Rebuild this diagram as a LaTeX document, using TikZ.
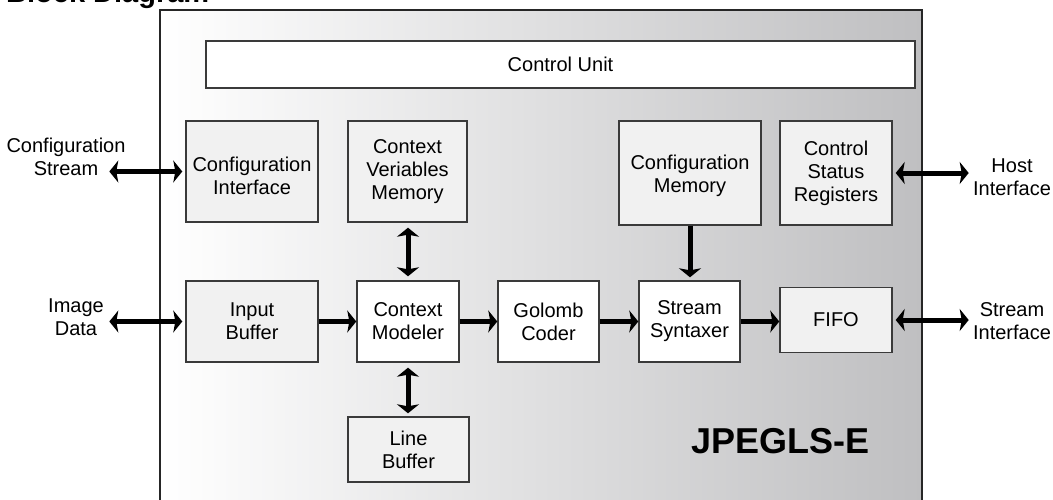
\documentclass[tikz,border=0pt]{standalone}
\usepackage{fontspec}
\setmainfont{Liberation Sans}
\usetikzlibrary{arrows.meta}
\definecolor{boxfill}{HTML}{F1F1F1}
\definecolor{boxline}{HTML}{3A3A3A}
\definecolor{chipline}{HTML}{262626}
\definecolor{shadeR}{HTML}{BFBFC1}
\begin{document}
\begin{tikzpicture}[x=1pt,y=-1pt,
  txt/.style={align=center, inner sep=0pt, font=\fontsize{20}{23}\selectfont},
  blk/.style={txt, draw=boxline, line width=1.4pt, fill=boxfill},
  wblk/.style={blk, fill=white},
  tipk/.tip={Stealth[length=9pt,width=22pt,inset=2pt]},
  conn/.style={line width=5pt, -tipk},
  dconn/.style={line width=5pt, tipk-tipk}]
\useasboundingbox (0,0) rectangle (1053,499);
\clip (0,0) rectangle (1053,499);
% chip outline
\node[draw=chipline, line width=2pt, left color=white, right color=shadeR,
      minimum width=762pt, minimum height=520pt, inner sep=0pt] (chip) at (541,270) {};
% title
\node[anchor=base west, inner sep=0pt, font=\fontsize{29}{32}\selectfont\bfseries] (title) at (6,2.5) {Block Diagram};
% blocks
\node[wblk, minimum width=709pt, minimum height=47pt] (ctrl) at (560.5,64.5) {Control Unit};
\node[blk, minimum width=132pt, minimum height=101pt, text height=47pt] (cfgif) at (252,171.5) {Configuration\\Interface};
\node[blk, minimum width=119pt, minimum height=101pt] (cvm) at (407.5,171.5) {Context\\Veriables\\Memory};
\node[blk, minimum width=142pt, minimum height=104pt, text height=44pt] (cfgmem) at (690,173) {Configuration\\Memory};
\node[blk, minimum width=112pt, minimum height=104pt] (csr) at (836,173) {Control\\Status\\Registers};
\node[blk, minimum width=132pt, minimum height=81pt] (inbuf) at (252,321.5) {Input\\Buffer};
\node[wblk, minimum width=102pt, minimum height=81pt] (cm) at (408,321.5) {Context\\Modeler};
\node[wblk, minimum width=101pt, minimum height=81pt] (gc) at (548.5,321.5) {Golomb\\Coder};
\node[wblk, minimum width=101pt, minimum height=81pt] (ss) at (689.5,321.5) {Stream\\Syntaxer};
\node[blk, minimum width=112pt, minimum height=65pt] (fifo) at (836,320) {FIFO};
\node[blk, minimum width=121pt, minimum height=65pt] (lb) at (408.5,449.5) {Line\\Buffer};
\node[anchor=base, inner sep=0pt, font=\fontsize{36}{40}\selectfont\bfseries] (name) at (780.5,453) {JPEGLS-E};
% external labels
\node[txt] (lcs) at (66,157) {Configuration\\Stream};
\node[txt] (lid) at (76,317) {Image\\Data};
\node[txt] (lhi) at (1012,177) {Host\\Interface};
\node[txt] (lsi) at (1012,321) {Stream\\Interface};
% external arrow ends
\coordinate (ecs) at ([xshift=-76pt]cfgif.west);
\coordinate (eid) at ([xshift=-76pt]inbuf.west);
\coordinate (ehi) at ([xshift=76pt]csr.east);
\coordinate (esi) at ([xshift=76pt]fifo.east);
% connectors
\draw[dconn, shorten >=3pt] (ecs) -- (cfgif.west);
\draw[dconn, shorten >=3pt] (eid) -- (inbuf.west);
\draw[dconn, shorten >=3pt] (ehi) -- (csr.east);
\draw[dconn, shorten >=3pt] (esi) -- (fifo.east);
\draw[conn] (inbuf.east) -- (cm.west);
\draw[conn] (cm.east) -- (gc.west);
\draw[conn] (gc.east) -- (ss.west);
\draw[conn] (ss.east) -- (ss.east -| fifo.west);
\draw[dconn, shorten <=5pt, shorten >=4pt] (cm.north |- cvm.south) -- (cm.north);
\draw[dconn, shorten <=5pt, shorten >=3pt] (cm.south) -- (cm.south |- lb.north);
\draw[conn, shorten >=3pt] (cfgmem.south) -- (cfgmem.south |- ss.north);
\end{tikzpicture}
\end{document}
